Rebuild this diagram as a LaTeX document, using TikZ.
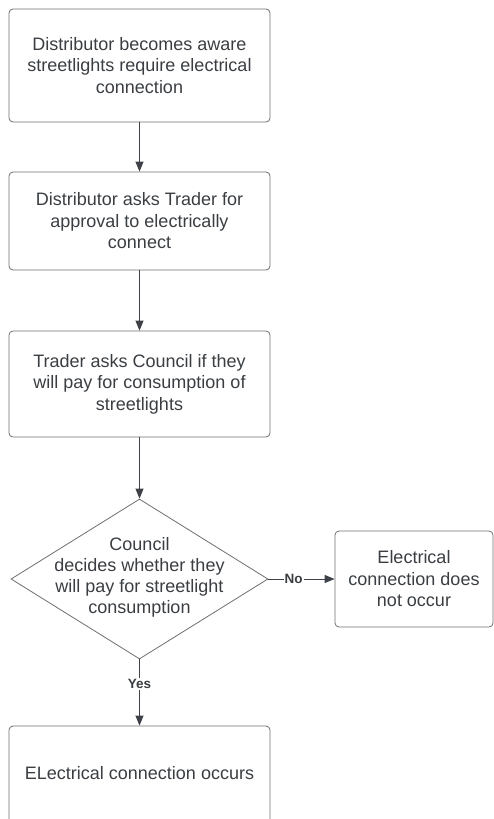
\documentclass[tikz,border=0pt]{standalone}
\usepackage{fontspec}
\setmainfont{Liberation Sans}
\usetikzlibrary{shapes.geometric,arrows.meta}
\definecolor{txt}{RGB}{58,62,66}
\definecolor{edge}{RGB}{110,110,110}
\definecolor{arr}{RGB}{62,66,72}
\tikzset{
  stepbox/.style={draw=edge, line width=0.8pt, rounded corners=4pt, minimum width=261pt, align=center, font=\fontsize{18}{21.5}\selectfont, text=txt, inner sep=0pt},
  decbox/.style={draw=edge, line width=0.8pt, diamond, minimum width=257pt, minimum height=160pt, inner sep=0pt},
  flow/.style={draw=arr, line width=1pt, -{Triangle[length=10pt,width=8pt]}},
  lbl/.style={fill=white, font=\fontsize{13.5}{15}\selectfont\bfseries, text=txt, inner sep=1pt}
}
\begin{document}
\begin{tikzpicture}[x=1pt,y=-1pt]
\useasboundingbox (0,0) rectangle (494,819);
\node[stepbox, minimum height=113pt] (b1) at (139.5,65.5) {Distributor becomes aware\\streetlights require electrical\\connection};
\node[stepbox, minimum height=98pt] (b2) at (139.5,221) {Distributor asks Trader for\\approval to electrically\\connect};
\node[stepbox, minimum height=106pt] (b3) at (139.5,384) {Trader asks Council if they\\will pay for consumption of\\streetlights};
\node[decbox] (d) at (139.5,579) {};
\node[align=center, font=\fontsize{18}{21}\selectfont, text=txt, inner sep=0pt] (dt) at (139.5,577) {Council\\decides whether they\\will pay for streetlight\\consumption};
\node[stepbox, minimum width=158pt, minimum height=96pt] (r) at (414,579) {Electrical\\connection does\\not occur};
\node[stepbox, minimum height=100pt] (b5) at (139.5,776) {};
\node[align=center, font=\fontsize{18}{21.5}\selectfont, text=txt, inner sep=0pt] (b5t) at (139.5,773) {ELectrical connection occurs};
\draw[flow] (b1) -- (b2);
\draw[flow] (b2) -- (b3);
\draw[flow] (b3) -- (d);
\draw[flow] (d.east) -- node[lbl, pos=0.38] (no) {No} (r.west);
\draw[flow] (d.south) -- node[lbl, pos=0.37] (yes) {Yes} (b5.north);
\end{tikzpicture}
\end{document}
